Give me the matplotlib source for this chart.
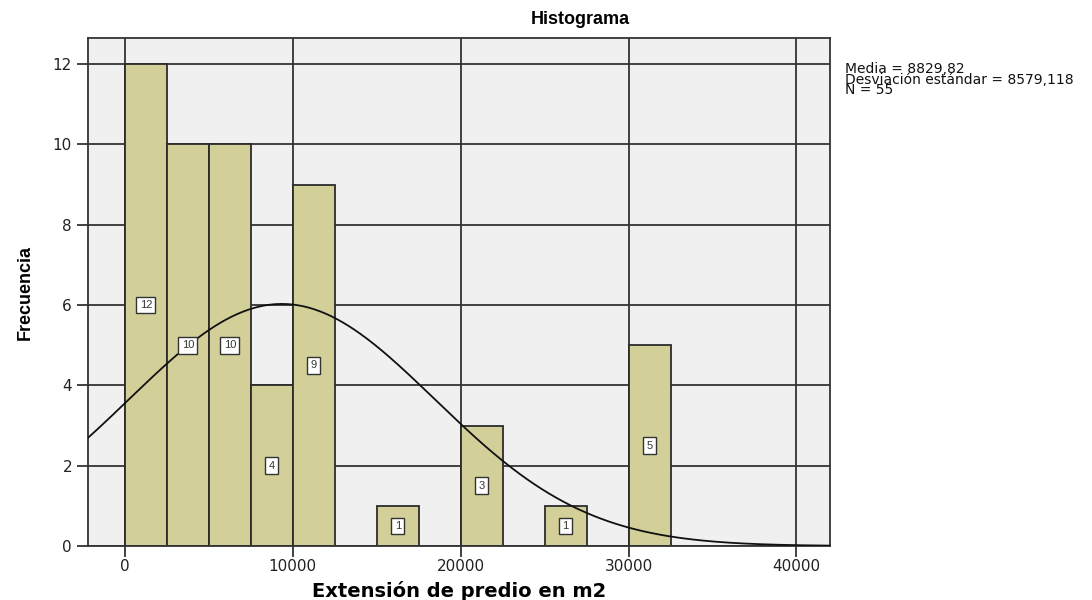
import numpy as np
import matplotlib
matplotlib.use("Agg")
import matplotlib.pyplot as plt

# histogram bins (left edges, width 2500) and counts
bin_left = [0, 2500, 5000, 7500, 10000, 12500, 15000, 17500, 20000, 22500, 25000, 27500, 30000]
counts = [12, 10, 10, 4, 9, 0, 1, 0, 3, 0, 1, 0, 5]
bin_width = 2500
n_total = 55
stats_text = "Media = 8829,82\nDesviación estándar = 8579,118\nN = 55"

# normal curve as drawn
curve_mean = 9350
curve_sd = 9100

bar_color = "#d3cf98"
edge = "#2b2b2b"

plt.rcParams['font.family'] = ['Liberation Sans', 'DejaVu Sans']

fig = plt.figure(figsize=(10.92, 6.0), dpi=100)
ax = fig.add_axes([88 / 1092, 1 - 546 / 600, (830 - 88) / 1092, (546 - 38) / 600])
ax.set_facecolor("#f0f0f0")

ax.set_xlim(-2200, 42000)
ax.set_ylim(0, 12.65)
ax.set_xticks([0, 10000, 20000, 30000, 40000])
ax.set_yticks([0, 2, 4, 6, 8, 10, 12])
ax.grid(True, color="#333333", linewidth=1.3)
ax.set_axisbelow(True)

for left, c in zip(bin_left, counts):
    if c == 0:
        continue
    ax.bar(left, c, width=bin_width, align="edge", color=bar_color,
           edgecolor=edge, linewidth=1.3, zorder=2)
    ax.text(left + bin_width / 2, c / 2, str(c), ha="center", va="center",
            fontsize=8, color="#333333", zorder=4,
            bbox=dict(boxstyle="square,pad=0.3", fc="white", ec="#333333", lw=1.0))

x = np.linspace(-2200, 42000, 400)
y = n_total * bin_width * np.exp(-0.5 * ((x - curve_mean) / curve_sd) ** 2) / (curve_sd * np.sqrt(2 * np.pi))
ax.plot(x, y, color="#111111", linewidth=1.3, zorder=3)

for s in ax.spines.values():
    s.set_color("#333333")
    s.set_linewidth(1.3)
ax.tick_params(axis="both", direction="out", length=8, width=1.3, color="#333333",
               labelsize=11, labelcolor="#222222")
ax.tick_params(axis="x", pad=1.5)
for lab in ax.get_xticklabels() + ax.get_yticklabels():
    lab.set_family(['DejaVu Sans'])

fig.text(580 / 1092, 1 - 20 / 600, "Histograma", fontsize=13, fontweight="bold",
         ha="center", va="center")
ax.set_ylabel("Frecuencia", fontsize=13, fontweight="bold",
              family=['Liberation Sans Narrow', 'Liberation Sans'], labelpad=14)
ax.set_xlabel("Extensión de predio en m2", fontsize=14, fontweight="bold",
              family=['DejaVu Sans'], labelpad=5)

fig.text(845 / 1092, 1 - 62 / 600, stats_text, fontsize=10, va="top", ha="left",
         linespacing=0.7, color="#111111", family=['DejaVu Sans'])

fig.savefig("out.png", dpi=100, facecolor="white")
